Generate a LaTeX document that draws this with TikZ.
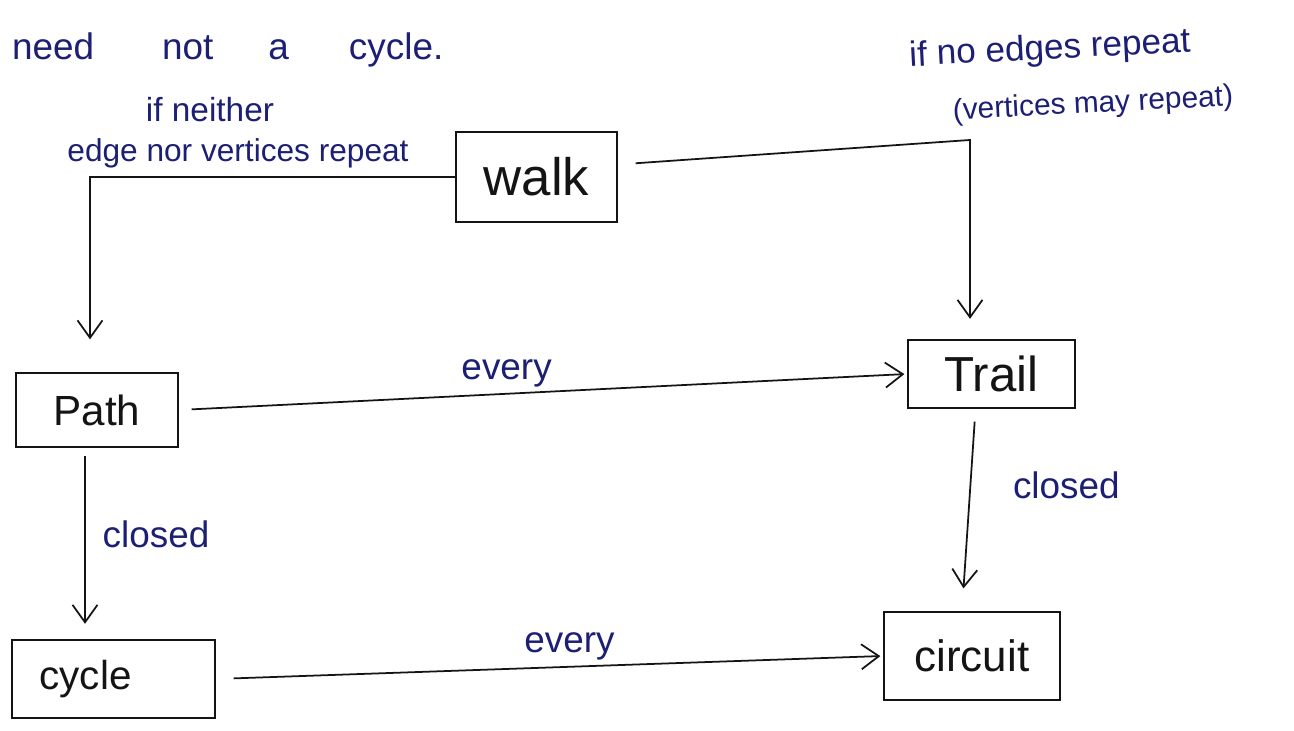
\documentclass[tikz,border=0pt]{standalone}
\usepackage{fontspec}
\setmainfont{Liberation Sans}
\usepackage{tikz}
\usetikzlibrary{positioning, arrows.meta, calc}
\definecolor{inkblue}{HTML}{1C1F73}
\definecolor{penblack}{HTML}{141414}

\begin{document}
\begin{tikzpicture}[
    box/.style={draw=penblack, line width=1.3pt, inner sep=0pt, text=penblack},
    arr/.style={draw=penblack, line width=1pt, -{Straight Barb[length=3.5mm, width=5mm]}},
    note/.style={text=inkblue, inner sep=1pt}
]
            \useasboundingbox (0,0) rectangle (25.88,14.62);
            \node[box, minimum width=3.22cm, minimum height=1.8cm, font=\fontsize{30}{34}\selectfont] (walk) at (10.73,11.08) {walk};
            \node[box, minimum width=3.24cm, minimum height=1.48cm, font=\fontsize{24}{28}\selectfont] (path) at (1.94,6.42) {Path};
            \node[box, minimum width=3.34cm, minimum height=1.36cm, font=\fontsize{28}{32}\selectfont] (trail) at (19.83,7.14) {Trail};
            \node[box, minimum width=4.06cm, minimum height=1.56cm, text width=2.96cm, inner xsep=0.55cm, align=left, font=\fontsize{23}{28}\selectfont] (cycle) at (2.27,1.04) {cycle};
            \node[box, minimum width=3.52cm, minimum height=1.76cm, font=\fontsize{25}{30}\selectfont] (circuit) at (19.44,1.50) {circuit};
            \coordinate (tcorner) at (19.40,11.82);

            \draw[arr, shorten >=0.65cm] (walk.west) -| ([xshift=-0.14cm]path.north);
            \draw[arr, shorten <=0.35cm, shorten >=0.4cm] ([yshift=0.25cm]walk.east) -- (tcorner) -- (tcorner |- trail.north);
            \draw[arr, shorten <=0.25cm, shorten >=0.05cm] (path.east) -- (trail.west)
                node[note, pos=0.45, above=2pt, font=\fontsize{21}{24}\selectfont] (every1) {every};
            \draw[arr, shorten <=0.15cm, shorten >=0.3cm] ([xshift=-0.24cm]path.south) -- ([xshift=-0.24cm]path.south |- cycle.north)
                node[note, pos=0.45, right=0.3cm, font=\fontsize{21}{24}\selectfont] (closed1) {closed};
            \draw[arr, shorten <=0.25cm, shorten >=0.45cm] ([xshift=-0.32cm]trail.south) -- ([xshift=-0.2cm]circuit.north)
                node[note, pos=0.38, right=0.8cm, font=\fontsize{21}{24}\selectfont] (closed2) {closed};
            \draw[arr, shorten <=0.35cm, shorten >=0.05cm] (cycle.east) -- (circuit.west)
                node[note, pos=0.53, above=2pt, font=\fontsize{21}{24}\selectfont] (every2) {every};

            \node[note, anchor=west, font=\fontsize{21}{24}\selectfont] (needtext) at (0.2,13.62) {need\hspace{1.36cm}not\hspace{1.1cm}a\hspace{1.2cm}cycle.};
            \node[note, font=\fontsize{19}{22}\selectfont] (neither) at (4.2,12.42) {if neither};
            \node[note, font=\fontsize{18}{21}\selectfont] (norepeat) at (4.76,11.56) {edge nor vertices repeat};
            \node[note, rotate=3, font=\fontsize{20}{23}\selectfont] (noedges) at (21.0,13.62) {if no edges repeat};
            \node[note, rotate=3, font=\fontsize{17}{20}\selectfont] (mayrepeat) at (21.86,12.52) {(vertices may repeat)};
        \end{tikzpicture}
\end{document}
